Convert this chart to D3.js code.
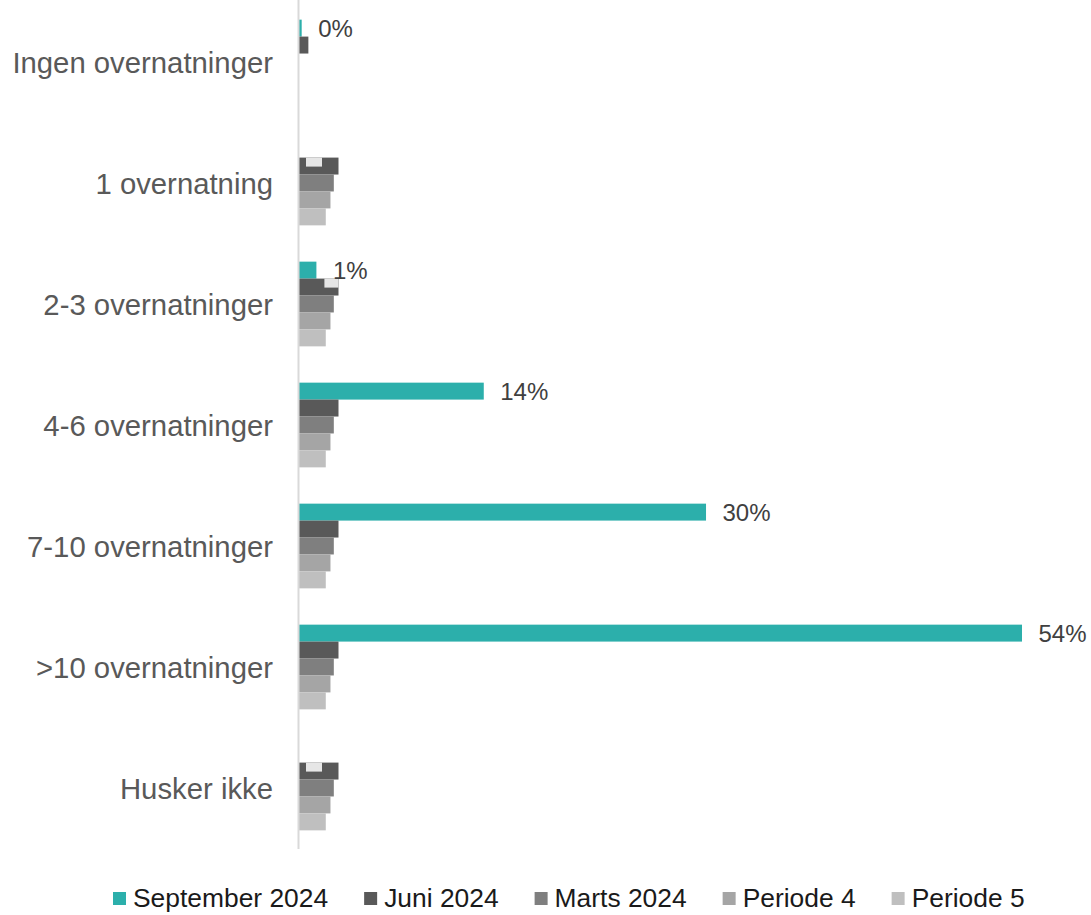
<!DOCTYPE html>
<html>
<head>
<meta charset="utf-8">
<script src="https://cdn.jsdelivr.net/npm/d3@7"></script>
<style>
  body { margin: 0; background: #fff; }
  text { font-family: "Liberation Sans", Arial, sans-serif; }
</style>
</head>
<body>
<div id="chart"></div>
<script>
const w = 1091;
const h = 915;

// categories (top to bottom)
const categories = ["Ingen overnatninger", "1 overnatning", "2-3 overnatninger",
  "4-6 overnatninger", "7-10 overnatninger", ">10 overnatninger", "Husker ikke"];

const seriesNames = ["September 2024", "Juni 2024", "Marts 2024", "Periode 4", "Periode 5"];
const seriesColors = ["#2cafab", "#595959", "#7f7f7f", "#a5a5a5", "#bfbfbf"];

// values in percent, null = no bar
const sep2024 = [0.2, null, 1.3, 13.8, 30.4, 54.0, null];
const juni2024 = [0.7, 2.95, 2.95, 2.95, 2.95, 2.95, 2.95];
const marts2024 = [null, 2.6, 2.6, 2.6, 2.6, 2.6, 2.6];
const periode4 = [null, 2.35, 2.35, 2.35, 2.35, 2.35, 2.35];
const periode5 = [null, 2.0, 2.0, 2.0, 2.0, 2.0, 2.0];

// data labels shown for September 2024
const sepLabels = ["0%", null, "1%", "14%", "30%", "54%", null];
// empty label boxes left over in the original
const emptyBoxes = ["1 overnatning", "2-3 overnatninger", "Husker ikke"];

const allSeries = [sep2024, juni2024, marts2024, periode4, periode5];

const svg = d3.select("#chart").append("svg")
  .attr("width", w)
  .attr("height", h);

const x = d3.scaleLinear().domain([0, 54]).range([299, 1022]);

const y = d3.scaleBand()
  .domain(categories)
  .range([1.5, 848.5])
  .paddingInner(0.3)
  .paddingOuter(0.15);

const ySub = d3.scaleBand()
  .domain(seriesNames)
  .range([0, y.bandwidth()]);

// bars
const rows = [];
categories.forEach(function(c, i) {
  allSeries.forEach(function(s, j) {
    if (s[i] != null) rows.push({cat: c, series: seriesNames[j], color: seriesColors[j], value: s[i]});
  });
});

svg.append("g").selectAll("rect")
  .data(rows)
  .enter().append("rect")
  .attr("x", x(0))
  .attr("y", d => y(d.cat) + ySub(d.series))
  .attr("width", d => x(d.value) - x(0))
  .attr("height", ySub.bandwidth())
  .attr("fill", d => d.color);

// leftover label boxes
svg.append("g").selectAll("rect")
  .data(emptyBoxes)
  .enter().append("rect")
  .attr("x", function(d) {
    const v = sep2024[categories.indexOf(d)];
    return v ? x(v) + 8 : x(0) + 7;
  })
  .attr("y", d => y(d) + ySub("Juni 2024"))
  .attr("width", function(d) { return sep2024[categories.indexOf(d)] ? 14 : 16; })
  .attr("height", 9)
  .attr("fill", "#e6e6e6");

// axis line
svg.append("line")
  .attr("x1", x(0) - 0.5).attr("x2", x(0) - 0.5)
  .attr("y1", 0).attr("y2", 849)
  .attr("stroke", "#d9d9d9")
  .attr("stroke-width", 2);

// category labels
svg.append("g").selectAll("text")
  .data(categories)
  .enter().append("text")
  .attr("x", 273)
  .attr("y", d => y(d) + y.bandwidth() / 2)
  .attr("dy", "0.36em")
  .attr("text-anchor", "end")
  .attr("fill", "#595959")
  .style("font-size", "29.3px")
  .text(d => d);

// data labels
svg.append("g").selectAll("text")
  .data(categories.map((c, i) => ({cat: c, v: sep2024[i], label: sepLabels[i]})).filter(d => d.label))
  .enter().append("text")
  .attr("x", d => x(d.v) + 16.5)
  .attr("y", d => y(d.cat) + ySub("September 2024") + ySub.bandwidth() / 2)
  .attr("dy", "0.36em")
  .attr("fill", "#404040")
  .style("font-size", "24px")
  .text(d => d.label);

// legend
const legend = svg.append("g");
let lx = 113;
seriesNames.forEach(function(name, i) {
  legend.append("rect")
    .attr("x", lx).attr("y", 892)
    .attr("width", 13).attr("height", 13)
    .attr("fill", seriesColors[i]);
  const t = legend.append("text")
    .attr("x", lx + 20).attr("y", 907)
    .attr("fill", "#1a1a1a")
    .style("font-size", "26.4px")
    .text(name);
  lx += 20 + t.node().getComputedTextLength() + 36;
});
</script>
</body>
</html>
